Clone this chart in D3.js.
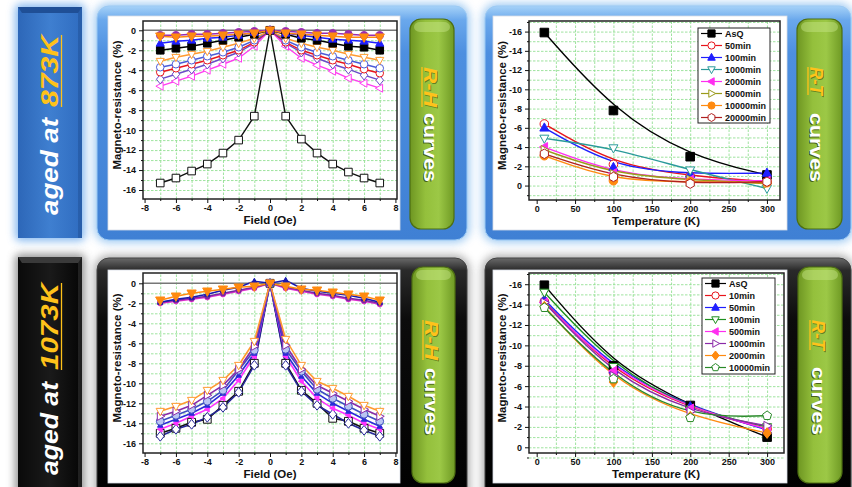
<!DOCTYPE html>
<html>
<head>
<meta charset="utf-8">
<script src="https://cdn.jsdelivr.net/npm/d3@7/dist/d3.min.js"></script>
<style>
  body { margin: 0; background: #fff; }
  svg { display: block; font-family: "Liberation Sans", Arial, sans-serif; }
  .grid line { stroke: #86dc86; stroke-dasharray: 2.5,1.5; stroke-width: 0.8; }
  .grid path { display: none; }
  .axis path { display: none; }
  .axis line { stroke: #111; stroke-width: 1; }
  .axis text { font-size: 9px; font-weight: bold; fill: #111; font-family: "Liberation Sans", Arial, sans-serif; }
</style>
</head>
<body>
<div id="chart"></div>
<script>
// ---- data ----
var fields = [-7, -6, -5, -4, -3, -2, -1, 0, 1, 2, 3, 4, 5, 6, 7];
var temps = [10, 100, 200, 300];

var rhTicksX = [-8, -6, -4, -2, 0, 2, 4, 6, 8];
var rhTicksY = [0, -2, -4, -6, -8, -10, -12, -14, -16];
var rtTicksX = [0, 50, 100, 150, 200, 250, 300];
var rtTicksY = [-16, -14, -12, -10, -8, -6, -4, -2, 0];

// aged at 873K, R-H
var rh873AsQ    = [-15.3, -14.8, -14.1, -13.4, -12.3, -11.0, -8.6, 0, -8.6, -10.9, -12.3, -13.4, -14.2, -14.8, -15.3];
var rh873Sq     = [-2.0, -1.8, -1.6, -1.3, -1.0, -0.7, -0.4, 0, -0.4, -0.8, -1.0, -1.3, -1.6, -1.7, -2.0];
var rh873Tri    = [-1.3, -1.1, -1.0, -0.8, -0.7, -0.5, -0.2, 0, -0.3, -0.5, -0.7, -0.9, -1.0, -1.1, -1.3];
var rh873Dot    = [-0.5, -0.5, -0.4, -0.4, -0.3, -0.2, -0.1, 0, -0.1, -0.2, -0.3, -0.3, -0.4, -0.5, -0.5];
var rh873OrFill = [-0.6, -0.7, -0.6, -0.6, -0.5, -0.4, -0.3, 0, -0.3, -0.4, -0.5, -0.6, -0.7, -0.7, -0.7];
var rh873OrOpen = [-3.1, -2.7, -2.4, -2.1, -1.7, -1.3, -0.8, 0, -0.8, -1.3, -1.7, -2.0, -2.4, -2.7, -3.0];
var rh873BlCirc = [-3.7, -3.4, -3.0, -2.6, -2.2, -1.7, -1.0, 0, -1.0, -1.7, -2.2, -2.6, -3.0, -3.4, -3.8];
var rh873RdCirc = [-4.2, -3.8, -3.4, -3.0, -2.5, -2.0, -1.2, 0, -1.2, -2.0, -2.5, -3.0, -3.4, -3.9, -4.3];
var rh873Diam   = [-4.9, -4.4, -3.9, -3.4, -2.8, -2.2, -1.3, 0, -1.3, -2.2, -2.8, -3.4, -3.9, -4.5, -5.0];
var rh873LTri   = [-5.6, -5.1, -4.6, -4.0, -3.4, -2.8, -1.6, 0, -1.6, -2.8, -3.5, -4.1, -4.8, -5.3, -5.8];

// aged at 1073K, R-H
var rh1073OrOpen = [-12.8, -12.3, -11.7, -10.7, -9.7, -8.2, -5.8, 0, -5.6, -8.2, -9.8, -10.5, -11.3, -12.2, -12.8];
var rh1073RTri   = [-13.3, -12.8, -12.2, -11.2, -10.2, -8.6, -6.3, 0, -6.2, -8.6, -10.2, -11.0, -11.8, -12.6, -13.3];
var rh1073Circ   = [-13.8, -13.2, -12.6, -11.8, -10.7, -8.7, -6.7, 0, -6.6, -8.8, -10.6, -11.5, -12.3, -13.1, -13.8];
var rh1073Tri    = [-14.2, -13.6, -13.0, -12.2, -11.0, -9.2, -7.0, 0, -7.0, -9.3, -11.0, -12.0, -12.8, -13.6, -14.3];
var rh1073LTri   = [-14.6, -14.0, -13.3, -12.6, -11.5, -9.7, -7.3, 0, -7.3, -9.8, -11.5, -12.5, -13.2, -14.0, -14.6];
var rh1073Sq     = [-15.0, -14.5, -13.9, -13.6, -12.2, -10.8, -8.0, 0, -8.0, -10.7, -12.0, -13.5, -13.8, -14.5, -15.0];
var rh1073Diam   = [-15.3, -14.6, -14.1, -13.4, -12.4, -10.9, -8.2, 0, -8.2, -10.8, -12.2, -13.1, -14.0, -14.7, -15.3];
var rh1073UpTri  = [-1.9, -1.6, -1.4, -1.1, -0.7, -0.4, 0.2, 0, 0.3, -0.5, -0.8, -1.0, -1.2, -1.5, -1.9];
var rh1073UpMag  = [-2.0, -1.8, -1.6, -1.4, -1.1, -0.8, -0.5, 0, -0.5, -0.8, -1.1, -1.3, -1.6, -1.8, -2.1];
var rh1073UpPur  = [-1.9, -1.7, -1.5, -1.3, -1.0, -0.7, -0.4, 0, -0.4, -0.7, -1.0, -1.2, -1.5, -1.7, -2.0];
var rh1073UpOr   = [-1.7, -1.3, -1.0, -0.8, -0.6, -0.4, -0.3, 0, -0.3, -0.6, -0.7, -0.9, -1.1, -1.3, -1.7];

// aged at 873K, R-T
var rt873Names = ["AsQ", "50min", "100min", "1000min", "2000min", "5000min", "10000min", "20000min"];
var rt873AsQ   = [-15.9, -7.8, -3.0, -1.1];
var rt873m50   = [-6.4, -2.2, -1.0, -0.4];
var rt873m100  = [-6.0, -1.9, -1.2, -1.3];
var rt873m1000 = [-4.9, -3.9, -1.6, 0.3];
var rt873m2000 = [-4.0, -1.3, -0.6, -0.5];
var rt873m5000 = [-3.7, -1.2, -0.6, -0.2];
var rt873m10000 = [-3.1, -0.5, -0.4, -0.3];
var rt873m20000 = [-3.3, -0.9, -0.2, -0.4];

// aged at 1073K, R-T
var rt1073Names = ["AsQ", "10min", "50min", "100min", "500min", "1000min", "2000min", "10000min"];
var rt1073AsQ   = [-15.9, -8.0, -4.1, -1.0];
var rt1073m10   = [-14.3, -7.3, -3.8, -1.8];
var rt1073m50   = [-14.5, -7.6, -4.0, -1.7];
var rt1073m100  = [-15.2, -7.9, -3.7, -2.0];
var rt1073m500  = [-14.2, -7.5, -3.8, -1.8];
var rt1073m1000 = [-14.2, -7.0, -3.5, -2.1];
var rt1073m2000 = [-13.8, -6.4, -3.0, -1.4];
var rt1073m10000 = [-13.7, -6.7, -2.9, -3.1];

// ---- marker styles ----
var styles = {
  blkOpenSq:  { color: "#111", shape: "square", fill: "#fff" },
  blkSq:      { color: "#000", shape: "square", fill: "#000" },
  blueTri:    { color: "#1f1fff", shape: "up", fill: "#1f1fff" },
  purDot:     { color: "#9a2cb0", shape: "circle", fill: "#9a2cb0" },
  orDown:     { color: "#ff8a10", shape: "down", fill: "#ff8a10", r: 4.4 },
  orDownOpen: { color: "#ff9a30", shape: "down", fill: "#fff" },
  bluCirc:    { color: "#4b5cd8", shape: "circle", fill: "#fff" },
  redCirc:    { color: "#e8141b", shape: "circle", fill: "#fff" },
  purDiam:    { color: "#6a4bc8", shape: "diamond", fill: "#fff" },
  magLeft:    { color: "#ff3cf0", shape: "left", fill: "#fff" },
  purRight:   { color: "#8a2aa8", shape: "right", fill: "#fff" },
  ltBluCirc:  { color: "#3f4fc0", shape: "circle", fill: "#b9c4f2" },
  bluTriSm:   { color: "#2a2ad8", shape: "up", fill: "#2a2ad8", r: 2.6 },
  magLeftSm:  { color: "#ff33ff", shape: "left", fill: "#ff33ff", r: 2.6 },
  navyDiam:   { color: "#26269a", shape: "diamond", fill: "#fff" },
  magDotSm:   { color: "#e030d0", shape: "circle", fill: "#e030d0", r: 2.6 },
  purDotSm:   { color: "#7a28a0", shape: "circle", fill: "#7a28a0", r: 2.6 },
  navyTriSm:  { color: "#1a1ab0", shape: "up", fill: "#1a1ab0", r: 2.6 },
  tealDown:   { color: "#2a9a9a", shape: "down", fill: "#fff" },
  magLeftF:   { color: "#ff2ef0", shape: "left", fill: "#ff2ef0" },
  oliveRight: { color: "#9a9a1a", shape: "right", fill: "#fff" },
  orDot:      { color: "#ff8a10", shape: "circle", fill: "#ff8a10" },
  dkRedHex:   { color: "#b02020", shape: "hexagon", fill: "#fff" },
  greenDown:  { color: "#1f8f1f", shape: "down", fill: "#fff" },
  orDiam:     { color: "#ff8a10", shape: "diamond", fill: "#ff8a10" },
  greenPent:  { color: "#2a8a2a", shape: "pentagon", fill: "#fff" }
};

var W = 852, H = 487;
var svg = d3.select("#chart").append("svg").attr("width", W).attr("height", H);
var defs = svg.append("defs");

function addGradient(id, horizontal, stops) {
  var gr = defs.append("linearGradient").attr("id", id)
    .attr("x1", 0).attr("y1", 0)
    .attr("x2", horizontal ? 1 : 0).attr("y2", horizontal ? 0 : 1);
  stops.forEach(function(s) {
    gr.append("stop").attr("offset", s[0]).attr("stop-color", s[1]);
  });
}
addGradient("bluePanel", false, [[0, "#a6d2f8"], [0.06, "#6aa8ec"], [0.2, "#4d8fe0"], [1, "#3f80d4"]]);
addGradient("blackPanel", false, [[0, "#6a6a6a"], [0.05, "#2a2a2a"], [0.25, "#0c0c0c"], [1, "#000"]]);
addGradient("blueBar", true, [[0, "#2d67b8"], [0.5, "#3f7fd0"], [1, "#2f6cc0"]]);
addGradient("blackBar", true, [[0, "#0a0a0a"], [0.5, "#1a1a1a"], [1, "#050505"]]);
addGradient("greenPill", true, [[0, "#6e9622"], [0.35, "#94c03c"], [0.65, "#9cc846"], [1, "#6f9a24"]]);

defs.append("filter").attr("id", "blur").attr("x", "-20%").attr("y", "-20%").attr("width", "140%").attr("height", "140%")
  .append("feGaussianBlur").attr("stdDeviation", 4);

// ---- backgrounds ----
function glow(x, y, w, h, rx, color, op) {
  svg.append("rect").attr("x", x - 3).attr("y", y - 3).attr("width", w + 6).attr("height", h + 6)
    .attr("rx", rx + 3).attr("fill", color).attr("opacity", op).attr("filter", "url(#blur)");
}

// left label bars
glow(18, 7, 64, 231, 2, "#5fa2ea", 0.75);
glow(18, 257, 64, 240, 2, "#777", 0.8);

function labelBar(y, h, fill, cap) {
  svg.append("rect").attr("x", 18).attr("y", y).attr("width", 64).attr("height", h).attr("fill", fill);
  svg.append("path").attr("d", "M18," + y + "H82L78," + (y + 6) + "H22Z").attr("fill", cap);
  svg.append("rect").attr("x", 78).attr("y", y).attr("width", 4).attr("height", h).attr("fill", cap).attr("opacity", 0.5);
}
labelBar(7, 231, "url(#blueBar)", "#1f4f96");
labelBar(257, 240, "url(#blackBar)", "#3a3a3a");

function labelText(x, yStart, lenA, gap, lenB, word) {
  var yB = yStart - lenA - gap;
  svg.append("text").attr("transform", "translate(" + x + "," + yStart + ") rotate(-90)")
    .attr("font-size", 24).attr("font-weight", "bold").attr("font-style", "italic")
    .attr("fill", "#fff").attr("textLength", lenA).attr("lengthAdjust", "spacingAndGlyphs")
    .text("aged at");
  svg.append("text").attr("transform", "translate(" + x + "," + yB + ") rotate(-90)")
    .attr("font-size", 24).attr("font-weight", "bold").attr("font-style", "italic")
    .attr("fill", "#ffc21a").attr("textLength", lenB).attr("lengthAdjust", "spacingAndGlyphs")
    .text(word);
  svg.append("line").attr("x1", x + 3.5).attr("x2", x + 3.5).attr("y1", yB).attr("y2", yB - lenB)
    .attr("stroke", "#ffc21a").attr("stroke-width", 1.3);
}
labelText(58, 215, 97, 11, 72, "873K");
labelText(58, 475, 93, 12, 87, "1073K");

// big panels
var panels = [
  { x: 97, y: 6, w: 370, h: 234, dark: false },
  { x: 485, y: 6, w: 366, h: 234, dark: false },
  { x: 97, y: 258, w: 370, h: 245, dark: true },
  { x: 485, y: 258, w: 366, h: 245, dark: true }
];
panels.forEach(function(p) {
  glow(p.x, p.y, p.w, p.h, 12, p.dark ? "#8a8a8a" : "#8cc0f0", p.dark ? 0.7 : 0.8);
});
panels.forEach(function(p) {
  svg.append("rect").attr("x", p.x).attr("y", p.y).attr("width", p.w).attr("height", p.h).attr("rx", 12)
    .attr("fill", p.dark ? "url(#blackPanel)" : "url(#bluePanel)")
    .attr("stroke", p.dark ? "#444" : "#9ccaf4").attr("stroke-width", 1);
});

// white cards
[[108, 16, 292, 214], [493, 16, 294, 214], [108, 270, 292, 213], [493, 270, 294, 213]].forEach(function(c) {
  svg.append("rect").attr("x", c[0]).attr("y", c[1]).attr("width", c[2]).attr("height", c[3])
    .attr("fill", "#fff").attr("stroke", "#d8dde6").attr("stroke-width", 0.8);
});

// green pills
function pill(x, y, w, h, title, baseX, tA, lenA, tB, lenB) {
  svg.append("rect").attr("x", x).attr("y", y).attr("width", w).attr("height", h).attr("rx", 11)
    .attr("fill", "url(#greenPill)").attr("stroke", "#4d6e12").attr("stroke-width", 1.2);
  svg.append("rect").attr("x", x + 4).attr("y", y + 3).attr("width", w - 8).attr("height", 10).attr("rx", 6)
    .attr("fill", "#c8e68a").attr("opacity", 0.45);
  svg.append("text").attr("transform", "translate(" + (baseX + 1) + "," + (tA + 1) + ") rotate(90)")
    .attr("font-size", 18).attr("font-weight", "bold").attr("font-style", "italic")
    .attr("fill", "#3b5410").attr("opacity", 0.6)
    .attr("textLength", lenA).attr("lengthAdjust", "spacingAndGlyphs").text(title);
  svg.append("text").attr("transform", "translate(" + baseX + "," + tA + ") rotate(90)")
    .attr("font-size", 18).attr("font-weight", "bold").attr("font-style", "italic")
    .attr("fill", "#ffc21a")
    .attr("textLength", lenA).attr("lengthAdjust", "spacingAndGlyphs").text(title);
  svg.append("line").attr("x1", baseX - 2).attr("x2", baseX - 2).attr("y1", tA).attr("y2", tA + lenA)
    .attr("stroke", "#ffc21a").attr("stroke-width", 1.3);
  svg.append("text").attr("transform", "translate(" + (baseX - 1.2) + "," + (tB + 1) + ") rotate(90)")
    .attr("font-size", 18).attr("font-weight", "bold")
    .attr("fill", "#2f420c").attr("opacity", 0.75)
    .attr("textLength", lenB).attr("lengthAdjust", "spacingAndGlyphs").text("curves");
  svg.append("text").attr("transform", "translate(" + baseX + "," + tB + ") rotate(90)")
    .attr("font-size", 18).attr("font-weight", "bold")
    .attr("fill", "#fff")
    .attr("textLength", lenB).attr("lengthAdjust", "spacingAndGlyphs").text("curves");
}
pill(410, 19, 44, 210, "R-H", 424, 67, 40, 113, 69);
pill(797, 19, 45, 210, "R-T", 810, 67, 28, 113, 69);
pill(412, 267, 43, 216, "R-H", 425, 320, 40, 368, 67);
pill(798, 267, 44, 216, "R-T", 812, 320, 30, 367, 68);

// ---- plotting ----
function shapePath(shape, r) {
  var k, pts = [], n;
  switch (shape) {
    case "square": return "M" + -r + "," + -r + "H" + r + "V" + r + "H" + -r + "Z";
    case "circle": return "M" + r + ",0A" + r + "," + r + " 0 1,1 " + -r + ",0A" + r + "," + r + " 0 1,1 " + r + ",0Z";
    case "up": case "down": case "left": case "right":
      return "M0," + (-r * 1.15) + "L" + (r * 1.05) + "," + (r * 0.75) + "L" + (-r * 1.05) + "," + (r * 0.75) + "Z";
    case "diamond": return "M0," + (-r * 1.25) + "L" + r + ",0L0," + (r * 1.25) + "L" + -r + ",0Z";
    default:
      n = shape === "pentagon" ? 5 : 6;
      for (k = 0; k < n; k++) {
        var a = -Math.PI / 2 + k * 2 * Math.PI / n;
        pts.push((r * 1.1 * Math.cos(a)).toFixed(2) + "," + (r * 1.1 * Math.sin(a)).toFixed(2));
      }
      return "M" + pts.join("L") + "Z";
  }
}
var rotation = { up: 0, down: 180, left: -90, right: 90 };

function marker(g, st, cx, cy, r, useOwn) {
  var rr = (useOwn && st.r) ? st.r : r;
  g.append("path").attr("d", shapePath(st.shape, rr))
    .attr("transform", "translate(" + cx + "," + cy + ") rotate(" + (rotation[st.shape] || 0) + ")")
    .attr("fill", st.fill).attr("stroke", st.color).attr("stroke-width", 1);
}

var fmt = function(d) { return String(d); };

function drawPlot(p) {
  var g = svg.append("g");
  var x = d3.scaleLinear().domain(p.xDomain).range([p.left, p.right]);
  var y = d3.scaleLinear().domain(p.yDomain).range([p.bottom, p.top]);
  var cw = p.right - p.left, ch = p.bottom - p.top;

  g.append("g").attr("class", "grid").attr("transform", "translate(0," + p.bottom + ")")
    .call(d3.axisBottom(x).tickValues(p.xGrid).tickSize(-ch).tickFormat(""));
  g.append("g").attr("class", "grid").attr("transform", "translate(" + p.left + ",0)")
    .call(d3.axisLeft(y).tickValues(p.yGrid).tickSize(-cw).tickFormat(""));

  if (p.zeroLine) {
    g.append("line").attr("x1", p.left).attr("x2", p.right).attr("y1", y(0)).attr("y2", y(0))
      .attr("stroke", "#777").attr("stroke-width", 1.4);
  }

  var line = d3.line().curve(p.curve);
  p.series.forEach(function(s) {
    var st = styles[s.style];
    var pts = s.values.map(function(v, i) { return [x(p.xs[i]), y(v)]; });
    g.append("path").attr("d", line(pts)).attr("fill", "none")
      .attr("stroke", st.color).attr("stroke-width", p.lineWidth);
  });
  p.series.forEach(function(s) {
    var st = styles[s.style];
    s.values.forEach(function(v, i) { marker(g, st, x(p.xs[i]), y(v), p.markerR, true); });
  });

  g.append("rect").attr("x", p.left).attr("y", p.top).attr("width", cw).attr("height", ch)
    .attr("fill", "none").attr("stroke", "#222").attr("stroke-width", 1.5);

  g.append("g").attr("class", "axis").attr("transform", "translate(0," + p.bottom + ")")
    .call(d3.axisBottom(x).tickValues(p.xMajor).tickSize(4).tickPadding(2).tickFormat(fmt));
  g.append("g").attr("class", "axis").attr("transform", "translate(0," + p.bottom + ")")
    .call(d3.axisBottom(x).tickValues(p.xMinor).tickSize(2).tickFormat(""));
  g.append("g").attr("class", "axis").attr("transform", "translate(" + p.left + ",0)")
    .call(d3.axisLeft(y).tickValues(p.yMajor).tickSize(4).tickPadding(3).tickFormat(fmt));
  g.append("g").attr("class", "axis").attr("transform", "translate(" + p.left + ",0)")
    .call(d3.axisLeft(y).tickValues(p.yMinor).tickSize(2).tickFormat(""));

  g.append("text").attr("transform", "translate(" + p.yTitleX + "," + ((p.top + p.bottom) / 2 - 5) + ") rotate(-90)")
    .attr("text-anchor", "middle").attr("font-size", 11.5).attr("font-weight", "bold").attr("fill", "#111")
    .text("Magneto-resistance (%)");
  g.append("text").attr("x", p.xTitleX).attr("y", p.bottom + 25)
    .attr("text-anchor", "middle").attr("font-size", 11.5).attr("font-weight", "bold").attr("fill", "#111")
    .text(p.xTitle);

  if (p.legend) {
    var L = p.legend;
    var lg = g.append("g");
    lg.append("rect").attr("x", L.x).attr("y", L.y).attr("width", L.w).attr("height", L.h)
      .attr("fill", "#fff").attr("stroke", "#222").attr("stroke-width", 1);
    p.series.forEach(function(s, i) {
      var st = styles[s.style];
      var ly = L.y + 5.5 + i * 12;
      lg.append("line").attr("x1", L.x + 3).attr("x2", L.x + 24).attr("y1", ly).attr("y2", ly)
        .attr("stroke", st.color).attr("stroke-width", 1.2);
      marker(lg, st, L.x + 13.5, ly, 3.6, false);
      lg.append("text").attr("x", L.x + 27).attr("y", ly + 3.3)
        .attr("font-size", 9).attr("font-weight", "bold").attr("fill", "#111").text(s.name);
    });
  }
}

var rhMinorX = [-7, -5, -3, -1, 1, 3, 5, 7];
var rhMinorY = [-1, -3, -5, -7, -9, -11, -13, -15];
var rhGridX = [-7, -6, -5, -4, -3, -2, -1, 1, 2, 3, 4, 5, 6, 7];
var rhGridY = [-16, -15, -14, -13, -12, -11, -10, -9, -8, -7, -6, -5, -4, -3, -2, -1];
var rtMinorX = [25, 75, 125, 175, 225, 275];
var rtMinorY = [-17, -15, -13, -11, -9, -7, -5, -3, -1, 1];
var rtGridX = [25, 50, 75, 100, 125, 150, 175, 200, 225, 250, 275, 300];
var rtGridY = [-17, -16, -15, -14, -13, -12, -11, -10, -9, -8, -7, -6, -5, -4, -3, -2, -1, 0, 1];

// 873K R-H
drawPlot({
  left: 143, right: 397, top: 21, bottom: 199,
  xDomain: [-8.1, 8.1], yDomain: [-16.9, 0.93], xs: fields,
  xMajor: rhTicksX, xMinor: rhMinorX, yMajor: rhTicksY, yMinor: rhMinorY,
  xGrid: rhGridX, yGrid: rhGridY, zeroLine: true, curve: d3.curveLinear,
  lineWidth: 1.4, markerR: 3.8, yTitleX: 121, xTitleX: 270, xTitle: "Field (Oe)",
  series: [
    { values: rh873AsQ, style: "blkOpenSq" },
    { values: rh873LTri, style: "magLeft" },
    { values: rh873Diam, style: "purDiam" },
    { values: rh873RdCirc, style: "redCirc" },
    { values: rh873BlCirc, style: "bluCirc" },
    { values: rh873OrOpen, style: "orDownOpen" },
    { values: rh873Sq, style: "blkSq" },
    { values: rh873Tri, style: "blueTri" },
    { values: rh873Dot, style: "purDot" },
    { values: rh873OrFill, style: "orDown" }
  ]
});

// 1073K R-H
drawPlot({
  left: 143, right: 397, top: 273, bottom: 453,
  xDomain: [-8.1, 8.1], yDomain: [-16.97, 1.03], xs: fields,
  xMajor: rhTicksX, xMinor: rhMinorX, yMajor: rhTicksY, yMinor: rhMinorY,
  xGrid: rhGridX, yGrid: rhGridY, zeroLine: true, curve: d3.curveLinear,
  lineWidth: 1.6, markerR: 3.9, yTitleX: 121, xTitleX: 270, xTitle: "Field (Oe)",
  series: [
    { values: rh1073Sq, style: "blkOpenSq" },
    { values: rh1073Diam, style: "navyDiam" },
    { values: rh1073LTri, style: "magLeftSm" },
    { values: rh1073Tri, style: "bluTriSm" },
    { values: rh1073Circ, style: "ltBluCirc" },
    { values: rh1073RTri, style: "purRight" },
    { values: rh1073OrOpen, style: "orDownOpen" },
    { values: rh1073UpMag, style: "magDotSm" },
    { values: rh1073UpPur, style: "purDotSm" },
    { values: rh1073UpTri, style: "navyTriSm" },
    { values: rh1073UpOr, style: "orDown" }
  ]
});

// 873K R-T
var rt873Values = [rt873AsQ, rt873m50, rt873m100, rt873m1000, rt873m2000, rt873m5000, rt873m10000, rt873m20000];
var rt873Styles = ["blkSq", "redCirc", "blueTri", "tealDown", "magLeftF", "oliveRight", "orDot", "dkRedHex"];
drawPlot({
  left: 529, right: 780, top: 21, bottom: 200,
  xDomain: [-10, 317], yDomain: [1.5, -17.1], xs: temps,
  xMajor: rtTicksX, xMinor: rtMinorX, yMajor: rtTicksY, yMinor: rtMinorY,
  xGrid: rtGridX, yGrid: rtGridY, zeroLine: false, curve: d3.curveBasis,
  lineWidth: 1.4, markerR: 4.3, yTitleX: 506, xTitleX: 656, xTitle: "Temperature (K)",
  legend: { x: 698, y: 28, w: 72, h: 95 },
  series: rt873Values.map(function(v, i) { return { values: v, style: rt873Styles[i], name: rt873Names[i] }; })
});

// 1073K R-T
var rt1073Values = [rt1073AsQ, rt1073m10, rt1073m50, rt1073m100, rt1073m500, rt1073m1000, rt1073m2000, rt1073m10000];
var rt1073Styles = ["blkSq", "redCirc", "blueTri", "greenDown", "magLeftF", "purRight", "orDiam", "greenPent"];
drawPlot({
  left: 529, right: 784, top: 273, bottom: 453,
  xDomain: [-10, 322], yDomain: [0.56, -17.1], xs: temps,
  xMajor: rtTicksX, xMinor: rtMinorX, yMajor: rtTicksY, yMinor: rtMinorY,
  xGrid: rtGridX, yGrid: rtGridY, zeroLine: false, curve: d3.curveBasis,
  lineWidth: 1.4, markerR: 4.3, yTitleX: 506, xTitleX: 656, xTitle: "Temperature (K)",
  legend: { x: 702, y: 278, w: 73, h: 96 },
  series: rt1073Values.map(function(v, i) { return { values: v, style: rt1073Styles[i], name: rt1073Names[i] }; })
});
</script>
</body>
</html>
